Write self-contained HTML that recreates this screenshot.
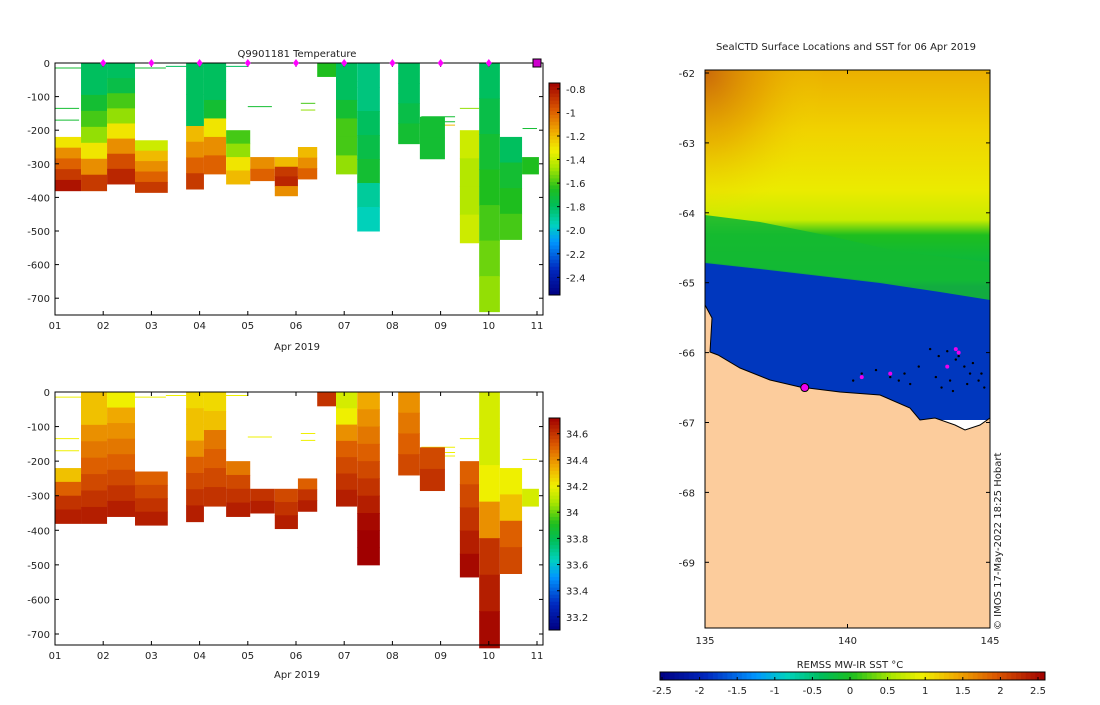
<!DOCTYPE html>
<html><head><meta charset="utf-8"><style>
body{margin:0;background:#fff;font-family:"Liberation Sans","DejaVu Sans",sans-serif}
svg text{font-family:"DejaVu Sans","Liberation Sans",sans-serif;font-size:10px;fill:#222}
</style></head><body>
<svg id="s" width="1100" height="700" xmlns="http://www.w3.org/2000/svg">
<text x="297" y="57" text-anchor="middle" font-size="11">Q9901181  Temperature</text>
<text x="846" y="50" text-anchor="middle" font-size="11">SealCTD Surface Locations and SST for 06 Apr 2019</text>
<text x="297" y="350" text-anchor="middle">Apr 2019</text>
<text x="297" y="678" text-anchor="middle">Apr 2019</text>
<text x="850" y="668" text-anchor="middle">REMSS MW-IR SST °C</text>
<text transform="translate(1001,630) rotate(-90)" font-size="9">© IMOS 17-May-2022 18:25 Hobart</text>
<g id="g"></g>
</svg>
<script>
// ---- data ----
const colDay0=[1.0,1.54,2.08,2.66,3.72,4.09,4.55,5.05,5.56,6.04,6.44,6.83,7.27,8.12,8.57,9.40,9.80,10.23,10.69];
const colDay1=[1.54,2.08,2.66,3.34,4.09,4.55,5.05,5.56,6.04,6.44,6.83,7.27,7.74,8.57,9.09,9.80,10.23,10.69,11.04];
const colTop=[220,0,0,230,0,0,200,280,280,250,0,0,0,0,160,200,0,220,280];
const colBot=[380,380,360,385,375,330,360,350,395,345,40,330,500,240,285,535,740,525,330];
const colTemp=[[-1.3,-1.1,-1.0,-0.9,-0.8],[-1.8,-1.8,-1.7,-1.6,-1.5,-1.3,-1.1,-0.9],[-1.8,-1.75,-1.6,-1.5,-1.3,-1.1,-0.95,-0.85],[-1.4,-1.2,-1.1,-1.0,-0.9],[-1.8,-1.8,-1.8,-1.8,-1.2,-1.1,-1.0,-0.9],[-1.8,-1.8,-1.7,-1.3,-1.1,-1.0],[-1.6,-1.5,-1.3,-1.2],[-1.1,-1.0],[-1.2,-0.9,-0.85,-1.1],[-1.2,-1.1,-1.0],[-1.65],[-1.8,-1.8,-1.7,-1.6,-1.6,-1.5],[-1.85,-1.85,-1.8,-1.75,-1.7,-1.9,-1.95],[-1.8,-1.8,-1.75,-1.7],[-1.7,-1.7],[-1.4,-1.45,-1.45,-1.4],[-1.8,-1.75,-1.7,-1.65,-1.6,-1.55,-1.5],[-1.8,-1.7,-1.65,-1.6],[-1.65]];
const colSal=[[34.3,34.5,34.6,34.65],[34.3,34.3,34.4,34.45,34.5,34.55,34.6,34.65],[34.2,34.35,34.4,34.45,34.5,34.55,34.6,34.65],[34.5,34.55,34.6,34.65],[34.25,34.3,34.3,34.4,34.5,34.55,34.6,34.65],[34.25,34.3,34.45,34.5,34.55,34.6],[34.45,34.55,34.6,34.65],[34.6,34.65],[34.55,34.6,34.65],[34.5,34.6,34.65],[34.6],[34.15,34.2,34.4,34.5,34.55,34.6,34.65],[34.35,34.4,34.45,34.5,34.55,34.6,34.65,34.7,34.75,34.75],[34.4,34.45,34.5,34.55],[34.55,34.6],[34.5,34.55,34.6,34.65,34.7],[34.15,34.15,34.2,34.4,34.6,34.65,34.7],[34.2,34.3,34.5,34.55],[34.15]];
const lineDay0=[1.0,1.0,1.0,3.3,5.0,6.1,6.1,8.6,8.6,8.6,9.4,10.7];
const lineDay1=[1.5,1.5,3.3,5.0,5.5,6.4,6.4,9.3,9.3,9.3,9.8,11.0];
const lineDepth=[135,170,15,10,130,120,140,160,175,185,135,195];
const lineTemp=[-1.7,-1.7,-1.7,-1.8,-1.7,-1.6,-1.5,-1.7,-1.7,-1.2,-1.5,-1.7];
const markerDays=[2,3,4,5,6,7,8,9,10];
const dayTicks=["01","02","03","04","05","06","07","08","09","10","11"];
const depthTicks=[0,100,200,300,400,500,600,700];
const tempTicks=[-0.8,-1,-1.2,-1.4,-1.6,-1.8,-2,-2.2,-2.4];
const salTicks=[34.6,34.4,34.2,34,33.8,33.6,33.4,33.2];
const sstTicks=[-2.5,-2,-1.5,-1,-0.5,0,0.5,1,1.5,2,2.5];
const lonTicks=[135,140,145];
const latTicks=[-62,-63,-64,-65,-66,-67,-68,-69];
const ctdLon=[142.9,143.2,143.5,143.8,144.1,144.4,144.7,143.1,143.6,144.2,144.8,142.0,141.5,141.0,140.5,140.2,142.5,143.9,144.3,144.6,143.3,143.7,142.2,141.8];
const ctdLat=[-65.95,-66.05,-65.98,-66.1,-66.2,-66.15,-66.3,-66.35,-66.4,-66.45,-66.5,-66.3,-66.35,-66.25,-66.3,-66.4,-66.2,-66.05,-66.3,-66.4,-66.5,-66.55,-66.45,-66.4];
const magLon=[143.8,143.9,143.5,141.5,140.5,138.5];
const magLat=[-65.95,-66.0,-66.2,-66.3,-66.35,-66.5];
// ---- helpers ----
const NS="http://www.w3.org/2000/svg",G=document.getElementById('g');
function el(t,a,p){const e=document.createElementNS(NS,t);for(const k in a)e.setAttribute(k,a[k]);(p||G).appendChild(e);return e;}
const stops=[[0,[0,0,130]],[0.12,[0,40,190]],[0.25,[0,150,255]],[0.33,[0,210,190]],[0.42,[0,190,90]],[0.5,[30,190,30]],[0.6,[170,230,0]],[0.68,[240,240,0]],[0.77,[240,170,0]],[0.87,[220,90,0]],[1,[160,0,0]]];
function cmap(t){t=Math.max(0,Math.min(1,t));for(let i=1;i<stops.length;i++){if(t<=stops[i][0]){const a=stops[i-1],b=stops[i],f=(t-a[0])/(b[0]-a[0]);return 'rgb('+a[1].map((v,j)=>Math.round(v+(b[1][j]-v)*f)).join(',')+')';}}return 'rgb(160,0,0)';}
const xDay=d=>55+(d-1)*48.2;
const yTop=z=>63+z*0.336, yBot=z=>392+z*0.3457;
const tmin=-2.55,tmax=-0.75,smin=33.1,smax=34.72;
function panel(yf,y0,y1,vals,vmin,vmax,name,lineVals){
  for(let i=0;i<lineDay0.length;i++){
    const v=lineVals?lineTemp[i]:34.2;
    const l=el('line',{x1:xDay(lineDay0[i]),x2:xDay(lineDay1[i]),y1:yf(lineDepth[i]),y2:yf(lineDepth[i]),stroke:cmap((v-vmin)/(vmax-vmin)),'stroke-width':1});
    
    
  }
  for(let i=0;i<colTop.length;i++){
    const v=vals[i],n=v.length,h=(colBot[i]-colTop[i])/n;
    for(let k=0;k<n;k++){
      const r=el('rect',{x:xDay(colDay0[i]),y:yf(colTop[i]+k*h),width:xDay(colDay1[i])-xDay(colDay0[i]),height:yf(colTop[i]+(k+1)*h)-yf(colTop[i]+k*h)+0.5,fill:cmap((v[k]-vmin)/(vmax-vmin))});
      
      
    }
  }
  el('rect',{x:55,y:y0,width:488,height:y1-y0,fill:'none',stroke:'#000','stroke-width':1});
  dayTicks.forEach((t,i)=>{const x=xDay(i+1);el('line',{x1:x,x2:x,y1:y1,y2:y1-4,stroke:'#000'});el('line',{x1:x,x2:x,y1:y0,y2:y0+4,stroke:'#000'});const tx=el('text',{x:x,y:y1+14,'text-anchor':'middle'});tx.textContent=t;});
  depthTicks.forEach(d=>{const y=yf(d);el('line',{x1:55,x2:59,y1:y,y2:y,stroke:'#000'});el('line',{x1:543,x2:539,y1:y,y2:y,stroke:'#000'});const tx=el('text',{x:50,y:y+4,'text-anchor':'end'});tx.textContent=d===0?'0':'-'+d;});
}
panel(yTop,63,315,colTemp,tmin,tmax,'temperature',true);
panel(yBot,392,645,colSal,smin,smax,'salinity',false);
markerDays.forEach(d=>{const m=el('path',{d:`M${xDay(d)} ${59}l3 4l-3 4l-3-4z`,fill:'#f0f'});});
el('rect',{x:xDay(11)-4,y:59,width:8,height:8,fill:'#c0c',stroke:'#000'});
function vbar(y0,y1,vmin,vmax,ticks){
  const N=60;for(let i=0;i<N;i++){el('rect',{x:549,y:y0+(y1-y0)*i/N,width:11,height:(y1-y0)/N+0.5,fill:cmap(1-(i+0.5)/N)});}
  el('rect',{x:549,y:y0,width:11,height:y1-y0,fill:'none',stroke:'#000'});
  ticks.forEach(t=>{const y=y1-(t-vmin)/(vmax-vmin)*(y1-y0);el('line',{x1:560,x2:557,y1:y,y2:y,stroke:'#000'});const tx=el('text',{x:566,y:y+4});tx.textContent=(t===-1||t===34)?String(t):t.toFixed(1);});
}
vbar(83,295,tmin,tmax,tempTicks);
vbar(418,630,smin,smax,salTicks);
// ---- map ----
const mx=l=>705+(l-135)*28.5;
function mY(lat){return 73+(-62-lat)*69.9;}
const defs=el('defs',{});
const lg=el('linearGradient',{id:'sea',x1:0,y1:0,x2:0,y2:1},defs);
[[0,'rgb(235,175,0)'],[0.2,'rgb(240,210,0)'],[0.4,'rgb(235,235,0)'],[0.5,'rgb(200,235,0)'],[0.55,'rgb(30,190,30)'],[0.7,'rgb(0,180,80)'],[0.72,'rgb(0,55,190)'],[1,'rgb(0,55,190)']].forEach(s=>el('stop',{offset:s[0],'stop-color':s[1]},lg));
const rg=el('radialGradient',{id:'nw',cx:0,cy:0,r:1},defs);
[[0,'rgba(200,100,10,0.95)'],[0.5,'rgba(225,150,0,0.5)'],[1,'rgba(240,220,0,0)']].forEach(s=>el('stop',{offset:s[0],'stop-color':s[1]},rg));
el('rect',{x:705,y:70,width:285,height:300,fill:'url(#sea)'});
el('rect',{x:705,y:70,width:120,height:150,fill:'url(#nw)'});
el('polygon',{points:'705,262 760,268 820,275 880,282 940,290 990,297 990,420 705,420',fill:'rgb(0,55,190)'});
el('polygon',{points:'705,215 760,222 830,236 900,252 990,262 990,300 940,292 880,283 820,276 760,269 705,263',fill:'rgb(20,185,50)',opacity:0.9});
el('polygon',{points:'705,305 712,318 710,352 718,355 740,368 770,380 800,387 840,392 880,395 910,408 920,420 935,418 955,425 965,430 980,425 990,418 990,628 705,628',fill:'#fccc9c',stroke:'#000','stroke-width':1});
el('rect',{x:705,y:70,width:285,height:558,fill:'none',stroke:'#000'});
lonTicks.forEach(l=>{const x=mx(l);el('line',{x1:x,x2:x,y1:628,y2:624,stroke:'#000'});el('line',{x1:x,x2:x,y1:70,y2:74,stroke:'#000'});const t=el('text',{x:x,y:644,'text-anchor':'middle'});t.textContent=l;});
latTicks.forEach(l=>{const y=mY(l);el('line',{x1:705,x2:709,y1:y,y2:y,stroke:'#000'});el('line',{x1:990,x2:986,y1:y,y2:y,stroke:'#000'});const t=el('text',{x:695,y:y+4,'text-anchor':'end'});t.textContent=l;});
ctdLon.forEach((l,i)=>{const c=el('circle',{cx:mx(l),cy:mY(ctdLat[i]),r:1.2,fill:'#000'});});
magLon.forEach((l,i)=>{const c=el('circle',{cx:mx(l),cy:mY(magLat[i]),r:i===5?4:2,fill:'#e0e',stroke:i===5?'#000':'none'});});
const N=80;for(let i=0;i<N;i++){el('rect',{x:660+385*i/N,y:672,width:385/N+0.5,height:8,fill:cmap((i+0.5)/N)});}
el('rect',{x:660,y:672,width:385,height:8,fill:'none',stroke:'#000'});
sstTicks.forEach(t=>{const x=662+(t+2.5)/5*376;el('line',{x1:x,x2:x,y1:680,y2:677,stroke:'#000'});const tx=el('text',{x:x,y:694,'text-anchor':'middle'});tx.textContent=t;});
</script>
</body></html>
